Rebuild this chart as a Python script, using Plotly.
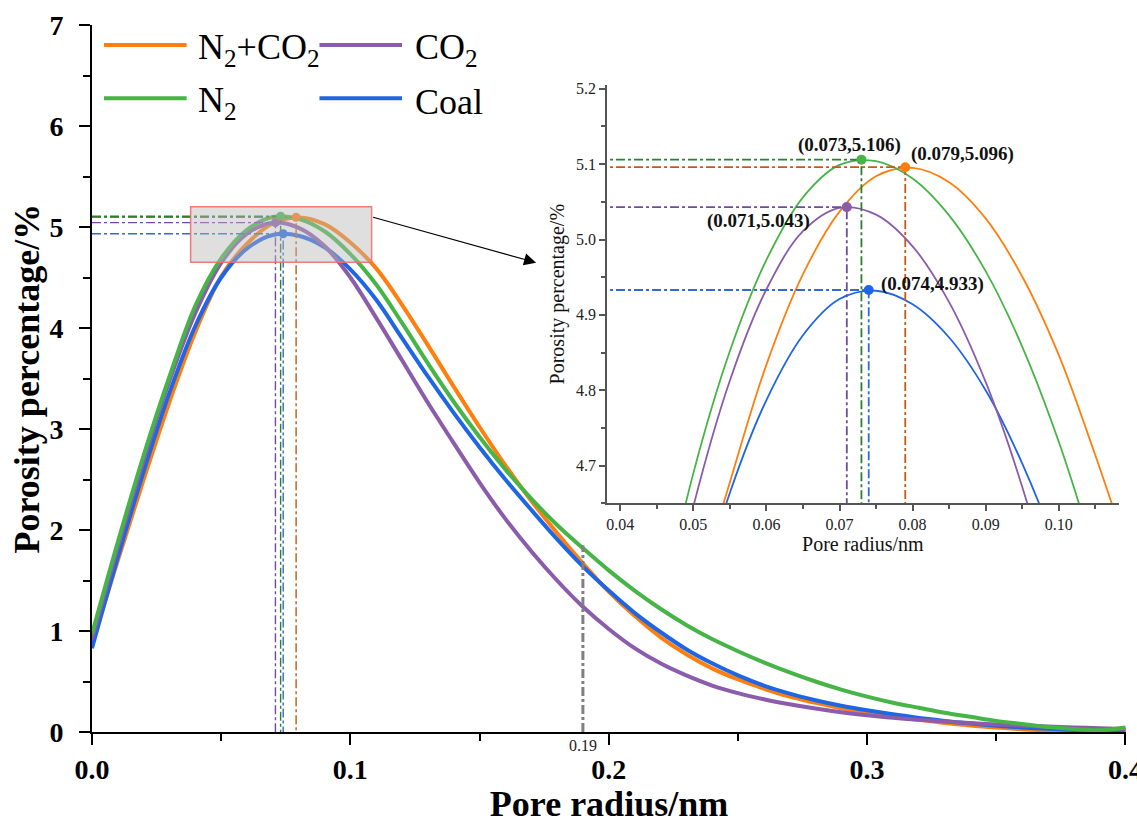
import plotly.graph_objects as go

# ---------------- data (main plot, 0.01 nm steps) ----------------
radius = [round(0.01 * k, 2) for k in range(41)]

n2_co2 = [0.88, 1.70, 2.50, 3.27, 3.96, 4.51, 4.834, 5.037, 5.095, 5.028,
          4.847, 4.59, 4.23, 3.83, 3.42, 3.02, 2.64, 2.29, 1.97, 1.67,
          1.39, 1.15, 0.94, 0.77, 0.63, 0.52, 0.43, 0.35, 0.29, 0.235,
          0.19, 0.155, 0.12, 0.09, 0.065, 0.045, 0.028, 0.015, 0.007, 0.004, 0.01]

co2 = [0.92, 1.83, 2.69, 3.48, 4.15, 4.646, 4.934, 5.042, 4.991, 4.811,
       4.50, 4.10, 3.68, 3.26, 2.86, 2.47, 2.11, 1.79, 1.50, 1.24,
       1.02, 0.83, 0.68, 0.56, 0.46, 0.385, 0.325, 0.275, 0.232, 0.195,
       0.165, 0.14, 0.12, 0.103, 0.088, 0.075, 0.064, 0.054, 0.045, 0.037, 0.03]

n2 = [0.97, 1.88, 2.74, 3.52, 4.22, 4.69, 4.973, 5.099, 5.081, 4.958,
      4.732, 4.43, 4.05, 3.65, 3.27, 2.92, 2.60, 2.31, 2.05, 1.82,
      1.60, 1.40, 1.22, 1.06, 0.92, 0.80, 0.69, 0.59, 0.50, 0.42,
      0.35, 0.29, 0.24, 0.19, 0.15, 0.11, 0.08, 0.05, 0.03, 0.018, 0.045]

coal = [0.83, 1.73, 2.58, 3.36, 4.02, 4.50, 4.787, 4.921, 4.914, 4.800,
        4.581, 4.28, 3.90, 3.52, 3.16, 2.82, 2.50, 2.20, 1.91, 1.64,
        1.40, 1.18, 0.99, 0.82, 0.68, 0.56, 0.46, 0.38, 0.315, 0.26,
        0.215, 0.175, 0.14, 0.11, 0.085, 0.063, 0.045, 0.031, 0.02, 0.014, 0.018]

# ---------------- data (inset, 0.005 nm steps) ----------------
inset_radius = [round(0.045 + 0.005 * k, 3) for k in range(14)]
n2_co2_in = [4.26, 4.51, 4.678, 4.834, 4.954, 5.037, 5.084, 5.095, 5.076, 5.028, 4.951, 4.847, 4.714, 4.57]
co2_in = [4.43, 4.646, 4.813, 4.934, 5.011, 5.042, 5.033, 4.991, 4.917, 4.811, 4.672, 4.50, 4.30, 4.10]
n2_in = [4.48, 4.69, 4.852, 4.973, 5.056, 5.099, 5.104, 5.081, 5.032, 4.958, 4.858, 4.732, 4.581, 4.43]
coal_in = [4.29, 4.50, 4.664, 4.787, 4.873, 4.921, 4.932, 4.914, 4.870, 4.800, 4.703, 4.581, 4.43, 4.28]

series_names = ["N<sub>2</sub>+CO<sub>2</sub>", "CO<sub>2</sub>", "N<sub>2</sub>", "Coal"]
peak_x = [0.079, 0.071, 0.073, 0.074]
peak_y = [5.096, 5.043, 5.106, 4.933]

marker_x = 0.19          # vertical reference line
marker_top = 1.85

inset_x_range = [0.03817, 0.10822]
inset_y_range = [4.65, 5.205]

# ---------------- styles ----------------
line_colors = ["#ff7f0e", "#8a5cab", "#46b446", "#1f66e5"]
dash_colors = ["#c55a11", "#6f4b9c", "#2e7d32", "#2f6bd0"]
label_pos = [(0.0869, 5.114), (0.0589, 5.025), (0.0713, 5.125), (0.0827, 4.941)]
draw_order = [0, 3, 1, 2]
main_vals = [n2_co2, co2, n2, coal]
inset_vals = [n2_co2_in, co2_in, n2_in, coal_in]

SERIF = "Liberation Serif"

fig = go.Figure()

for i in draw_order:
    fig.add_trace(go.Scatter(
        x=radius, y=main_vals[i], mode="lines",
        line=dict(color=line_colors[i], width=4, shape="spline", smoothing=1.0),
        showlegend=False, hoverinfo="skip"))
    fig.add_trace(go.Scatter(
        x=inset_radius, y=inset_vals[i], xaxis="x2", yaxis="y2", mode="lines",
        line=dict(color=line_colors[i], width=1.8, shape="spline", smoothing=1.0),
        showlegend=False, hoverinfo="skip"))

for i in range(4):
    for ax, ay, w in (("x", "y", 1.4), ("x2", "y2", 1.8)):
        fig.add_trace(go.Scatter(
            x=[0, peak_x[i], peak_x[i]], y=[peak_y[i], peak_y[i], 0],
            xaxis=ax, yaxis=ay, mode="lines",
            line=dict(color=dash_colors[i], width=w, dash="dashdot"),
            showlegend=False, hoverinfo="skip"))
    for ax, ay, s in (("x", "y", 9), ("x2", "y2", 10)):
        fig.add_trace(go.Scatter(
            x=[peak_x[i]], y=[peak_y[i]], xaxis=ax, yaxis=ay, mode="markers",
            marker=dict(color=line_colors[i], size=s),
            showlegend=False, hoverinfo="skip"))

# vertical reference line at 0.19
fig.add_trace(go.Scatter(
    x=[marker_x, marker_x], y=[0, marker_top], mode="lines",
    line=dict(color="#808080", width=3, dash="dashdot"),
    showlegend=False, hoverinfo="skip"))

shapes = []
annotations = []

# zoom box in main plot
shapes.append(dict(type="rect", xref="x", yref="y",
                   x0=inset_x_range[0], x1=inset_x_range[1],
                   y0=inset_y_range[0], y1=inset_y_range[1] - 0.005,
                   fillcolor="rgba(185,185,185,0.45)",
                   line=dict(color="rgba(240,110,110,0.9)", width=1.5),
                   layer="above"))

# arrow to inset
annotations.append(dict(x=0.1719, y=4.647, xref="x", yref="y",
                        ax=inset_x_range[1], ay=5.10, axref="x", ayref="y",
                        text="", showarrow=True, arrowhead=2, arrowsize=2.2,
                        arrowwidth=1.1, arrowcolor="black"))

# "0.19" label
annotations.append(dict(x=marker_x, y=0, xref="x", yref="y", text=f"{marker_x:.2f}",
                        showarrow=False, yanchor="top", yshift=-3,
                        font=dict(family=SERIF, size=16, color="#222")))

# peak labels in inset
for i in range(4):
    annotations.append(dict(x=label_pos[i][0], y=label_pos[i][1], xref="x2", yref="y2",
                            text=f"({peak_x[i]:.3f},{peak_y[i]:.3f})", showarrow=False,
                            font=dict(family=SERIF, size=19, color="#111", weight="bold")))

# y axis title (placed as annotation for exact position)
annotations.append(dict(x=-0.0629, y=0.5, xref="paper", yref="paper",
                        text="Porosity percentage/%", textangle=-90, showarrow=False,
                        xanchor="center", yanchor="middle",
                        font=dict(family=SERIF, size=36, color="black", weight="bold")))

# manual legend (2 x 2)
leg_rows = [0.9717, 0.8963]
leg_cols = [(0.0116, 0.0915, 0.1002), (0.2200, 0.2998, 0.3103)]
leg_layout = [(0, 0, 0), (1, 0, 1), (2, 1, 0), (3, 1, 1)]
for i, r, c in leg_layout:
    x0, x1, xt = leg_cols[c]
    shapes.append(dict(type="line", xref="paper", yref="paper",
                       x0=x0, x1=x1, y0=leg_rows[r], y1=leg_rows[r],
                       line=dict(color=line_colors[i], width=4)))
    annotations.append(dict(x=xt, y=leg_rows[r], xref="paper", yref="paper",
                            text=series_names[i], showarrow=False,
                            xanchor="left", yanchor="middle", yshift=-4,
                            font=dict(family=SERIF, size=36, color="black")))

fig.update_layout(
    width=1137, height=824,
    margin=dict(l=92, r=11, t=25, b=92),
    paper_bgcolor="white", plot_bgcolor="white",
    shapes=shapes, annotations=annotations,
    showlegend=False,
    xaxis=dict(range=[0, 0.4002], dtick=0.1, tickformat=".1f", automargin=False,
               showline=True, linecolor="black", linewidth=2,
               ticks="outside", ticklen=11, tickwidth=2, tickcolor="black",
               minor=dict(dtick=0.05, ticks="outside", ticklen=7, tickwidth=2, tickcolor="black"),
               showgrid=False, zeroline=False, ticklabelstandoff=0,
               ticklabeloverflow="allow",
               tickfont=dict(family=SERIF, size=28, color="black", weight="bold"),
               title=dict(text="Pore radius/nm", standoff=14,
                          font=dict(family=SERIF, size=36, color="black", weight="bold"))),
    yaxis=dict(range=[0, 7], dtick=1, automargin=False,
               showline=True, linecolor="black", linewidth=2,
               ticks="outside", ticklen=11, tickwidth=2, tickcolor="black",
               minor=dict(dtick=0.5, ticks="outside", ticklen=7, tickwidth=2, tickcolor="black"),
               showgrid=False, zeroline=False, ticklabelstandoff=10,
               tickfont=dict(family=SERIF, size=28, color="black", weight="bold")),
    xaxis2=dict(domain=[0.498, 0.993], anchor="y2", range=inset_x_range, dtick=0.01,
                tickformat=".2f", showline=True, linecolor="#555", linewidth=1.5,
                ticks="outside", ticklen=6, tickwidth=1.5, tickcolor="#555", automargin=False,
                minor=dict(dtick=0.005, ticks="outside", ticklen=4, tickwidth=1.5, tickcolor="#555"),
                showgrid=False, zeroline=False,
                tickfont=dict(family=SERIF, size=16, color="#222"),
                title=dict(text="Pore radius/nm", standoff=4,
                           font=dict(family=SERIF, size=20, color="#111"))),
    yaxis2=dict(domain=[0.3235, 0.9151], anchor="x2", range=inset_y_range, dtick=0.1,
                tickformat=".1f", showline=True, linecolor="#555", linewidth=1.5,
                ticks="outside", ticklen=6, tickwidth=1.5, tickcolor="#555", automargin=False,
                minor=dict(dtick=0.05, ticks="outside", ticklen=4, tickwidth=1.5, tickcolor="#555"),
                showgrid=False, zeroline=False,
                tickfont=dict(family=SERIF, size=16, color="#222"),
                title=dict(text="Porosity percentage/%", standoff=6,
                           font=dict(family=SERIF, size=20, color="#111"))),
)

fig.write_html("out.html")
